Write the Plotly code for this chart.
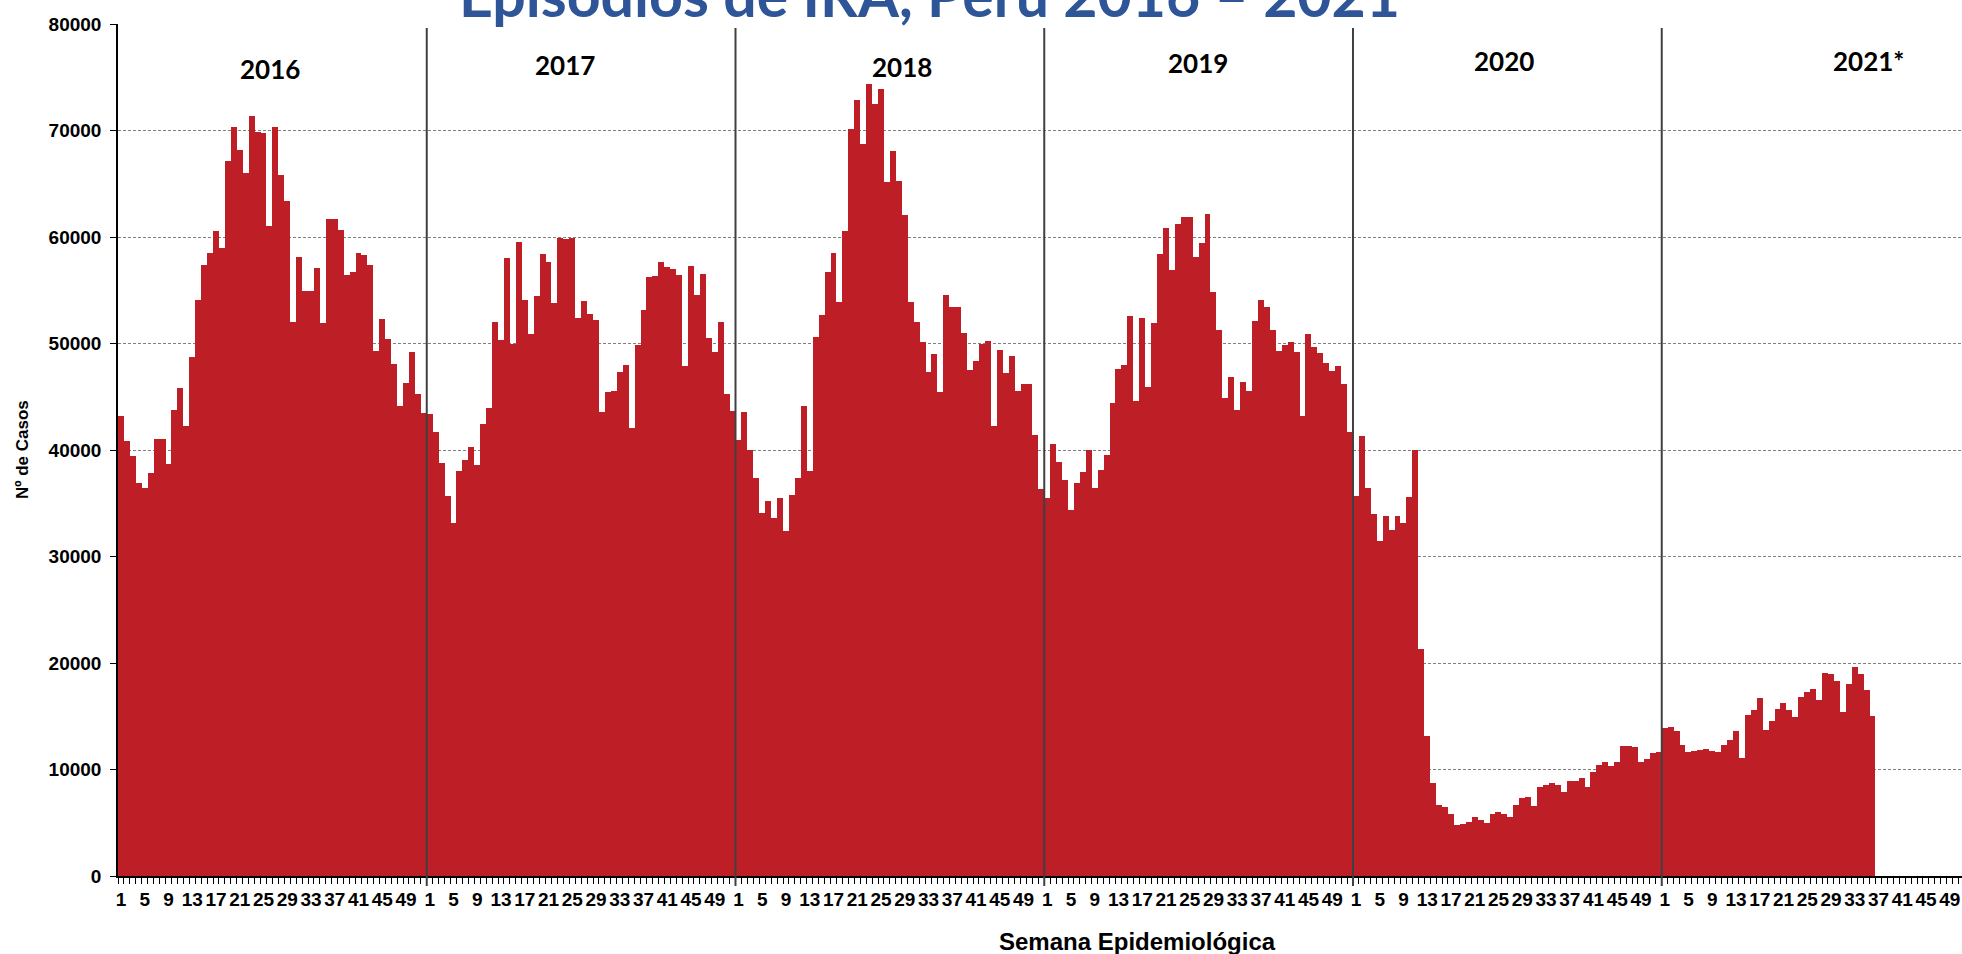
import plotly.graph_objects as go

# ---------------- data (weekly IRA episodes) ----------------
years = ["2016", "2017", "2018", "2019", "2020", "2021*"]

cases_2016 = [43200, 40800, 39400, 36900, 36400, 37800, 41000, 41000, 38700, 43800,
              45800, 42300, 48700, 54100, 57400, 58500, 60600, 59000, 67100, 70300,
              68200, 66000, 71400, 69900, 69800, 61000, 70300, 65800, 63400, 52000,
              58100, 54900, 54900, 57100, 51900, 61700, 61700, 60700, 56400, 56700,
              58500, 58300, 57400, 49300, 52300, 50400, 48100, 44100, 46300, 49200,
              45300, 43500]
cases_2017 = [43400, 41700, 38800, 35700, 33100, 38000, 39100, 40300, 38600, 42400,
              43900, 52000, 50300, 58000, 50000, 59500, 54100, 50900, 54500, 58400,
              57700, 53800, 59900, 59800, 59900, 52400, 54000, 52800, 52200, 43600,
              45400, 45500, 47300, 48000, 42100, 49900, 53100, 56200, 56300, 57700,
              57200, 57000, 56400, 47900, 57300, 54600, 56500, 50500, 49200, 52000,
              45300, 43700]
cases_2018 = [40900, 43600, 40000, 37400, 34100, 35200, 33600, 35500, 32400, 35800,
              37400, 44100, 38000, 50650, 52650, 56750, 58500, 53900, 60600, 70100,
              72850, 68700, 74400, 72500, 73900, 65200, 68100, 65300, 62100, 53900,
              52000, 50100, 47350, 49000, 45400, 54550, 53450, 53450, 51000, 47500,
              48400, 50000, 50200, 42300, 49400, 47200, 48800, 45500, 46200, 46200,
              41400, 36300]
cases_2019 = [35500, 40600, 38900, 37200, 34400, 36900, 37900, 40000, 36400, 38100,
              39500, 44400, 47600, 48000, 52600, 44600, 52400, 45900, 51900, 58400,
              60800, 56900, 61200, 61900, 61900, 58100, 59400, 62200, 54800, 51250,
              44900, 46900, 43750, 46400, 45500, 52100, 54100, 53400, 51250, 49300,
              49900, 50100, 49200, 43200, 50900, 49700, 49100, 48200, 47400, 47900,
              46200, 41700]
cases_2020 = [35700, 41300, 36400, 34000, 31500, 33800, 32500, 33800, 33100, 35600,
              40000, 21300, 13100, 8700, 6700, 6500, 5800, 4800, 4900, 5100,
              5500, 5300, 5000, 5800, 6000, 5800, 5500, 6700, 7300, 7400,
              6600, 8400, 8500, 8750, 8550, 7900, 8900, 8900, 9200, 8400,
              9800, 10400, 10750, 10300, 10750, 12250, 12250, 12100, 10700, 11000,
              11550, 11600]
cases_2021 = [13900, 14000, 13600, 12300, 11600, 11700, 11800, 11900, 11700, 11600,
              12300, 12800, 13600, 11100, 15100, 15600, 16700, 13700, 14600, 15700,
              16200, 15600, 14900, 16800, 17300, 17600, 16500, 19100, 19000, 18300,
              15400, 18000, 19600, 19000, 17500, 15000]

series = [cases_2016, cases_2017, cases_2018, cases_2019, cases_2020, cases_2021]
WEEKS = 52
week_labels = [1, 5, 9, 13, 17, 21, 25, 29, 33, 37, 41, 45, 49]
y_ticks = [0, 10000, 20000, 30000, 40000, 50000, 60000, 70000, 80000]

# ---------------- build positions ----------------
xs, ys = [], []
for k, vals in enumerate(series):
    for w, v in enumerate(vals):
        xs.append(k * WEEKS + w)
        ys.append(v)

tickvals = [k * WEEKS + (w - 1) for k in range(len(years)) for w in week_labels]
ticktext = [str(w) for k in range(len(years)) for w in week_labels]
minor_vals = [i - 0.5 for i in range(len(years) * WEEKS + 1)]

W, H = 1962, 954
L, T, B, R = 118, 24, 78, 0
PW, PH = W - L - R, H - T - B
X_MAX = 310.07


def px_x(p):
    return (p - L) / PW


def px_y(p):
    return (H - B - p) / PH


BAR = "rgb(190,30,37)"
AX_FONT = "Liberation Sans, Arial, sans-serif"

fig = go.Figure(go.Bar(x=xs, y=ys, marker=dict(color=BAR, line=dict(width=0)),
                       width=1.0, hoverinfo="x+y"))

# year separators
shapes = []
for k in range(1, len(years)):
    xb = k * WEEKS - 0.5
    shapes.append(dict(type="line", xref="x", yref="paper", x0=xb, x1=xb,
                       y0=-10 / PH, y1=px_y(28), line=dict(color="#404040", width=2)))

annotations = []
year_px = [270, 565, 902, 1198, 1504, 1868]
year_py = [69, 65, 67, 63, 61, 61]
for lab, xp, yp in zip(years, year_px, year_py):
    annotations.append(dict(text=lab, xref="paper", yref="paper", x=px_x(xp), y=px_y(yp),
                            xanchor="center", yanchor="middle", showarrow=False,
                            font=dict(family="Lato, Open Sans, sans-serif", size=26,
                                      color="black", weight="bold")))

annotations.append(dict(text="Episodios de IRA, Perú 2016 – 2021", xref="paper", yref="paper",
                        x=px_x(929), y=px_y(32), xanchor="center", yanchor="bottom",
                        showarrow=False,
                        font=dict(family="Lato, Open Sans, sans-serif", size=59,
                                  color="#2E5597", weight="bold")))
annotations.append(dict(text="Semana Epidemiológica", xref="paper", yref="paper",
                        x=px_x(1137), y=px_y(941), xanchor="center", yanchor="middle",
                        showarrow=False,
                        font=dict(family=AX_FONT, size=24, color="black", weight="bold")))
annotations.append(dict(text="Nº de Casos", xref="paper", yref="paper",
                        x=px_x(22), y=px_y(450), xanchor="center", yanchor="middle",
                        textangle=-90, showarrow=False,
                        font=dict(family=AX_FONT, size=17, color="black", weight="bold")))

fig.update_layout(
    width=W, height=H,
    margin=dict(l=L, r=R, t=T, b=B, pad=0, autoexpand=False),
    paper_bgcolor="white", plot_bgcolor="white",
    bargap=0, showlegend=False,
    shapes=shapes, annotations=annotations,
    xaxis=dict(range=[-0.5, X_MAX], tickmode="array", tickvals=tickvals, ticktext=ticktext,
               tickangle=0, ticks="outside", ticklen=6, tickcolor="rgba(0,0,0,0)",
               ticklabelstandoff=-1, automargin=False,
               tickfont=dict(family=AX_FONT, size=19, color="black", weight="bold"),
               showline=True, linecolor="black", linewidth=1.5, showgrid=False,
               zeroline=False,
               minor=dict(tickmode="array", tickvals=minor_vals, ticks="outside",
                          ticklen=6, tickcolor="black", tickwidth=1, showgrid=False)),
    yaxis=dict(range=[0, 80000], tickmode="array", tickvals=y_ticks,
               ticktext=[str(v) for v in y_ticks], automargin=False,
               ticks="outside", ticklen=6, tickcolor="black", ticklabelstandoff=5,
               tickfont=dict(family=AX_FONT, size=19, color="black", weight="bold"),
               showline=True, linecolor="black", linewidth=1.5,
               showgrid=True, gridcolor="#808080", gridwidth=1, griddash="3px,2px",
               zeroline=False),
)

fig.write_html("out.html", config={"displayModeBar": False},
               post_script="document.body.style.margin='0px';document.body.style.overflow='hidden';")
